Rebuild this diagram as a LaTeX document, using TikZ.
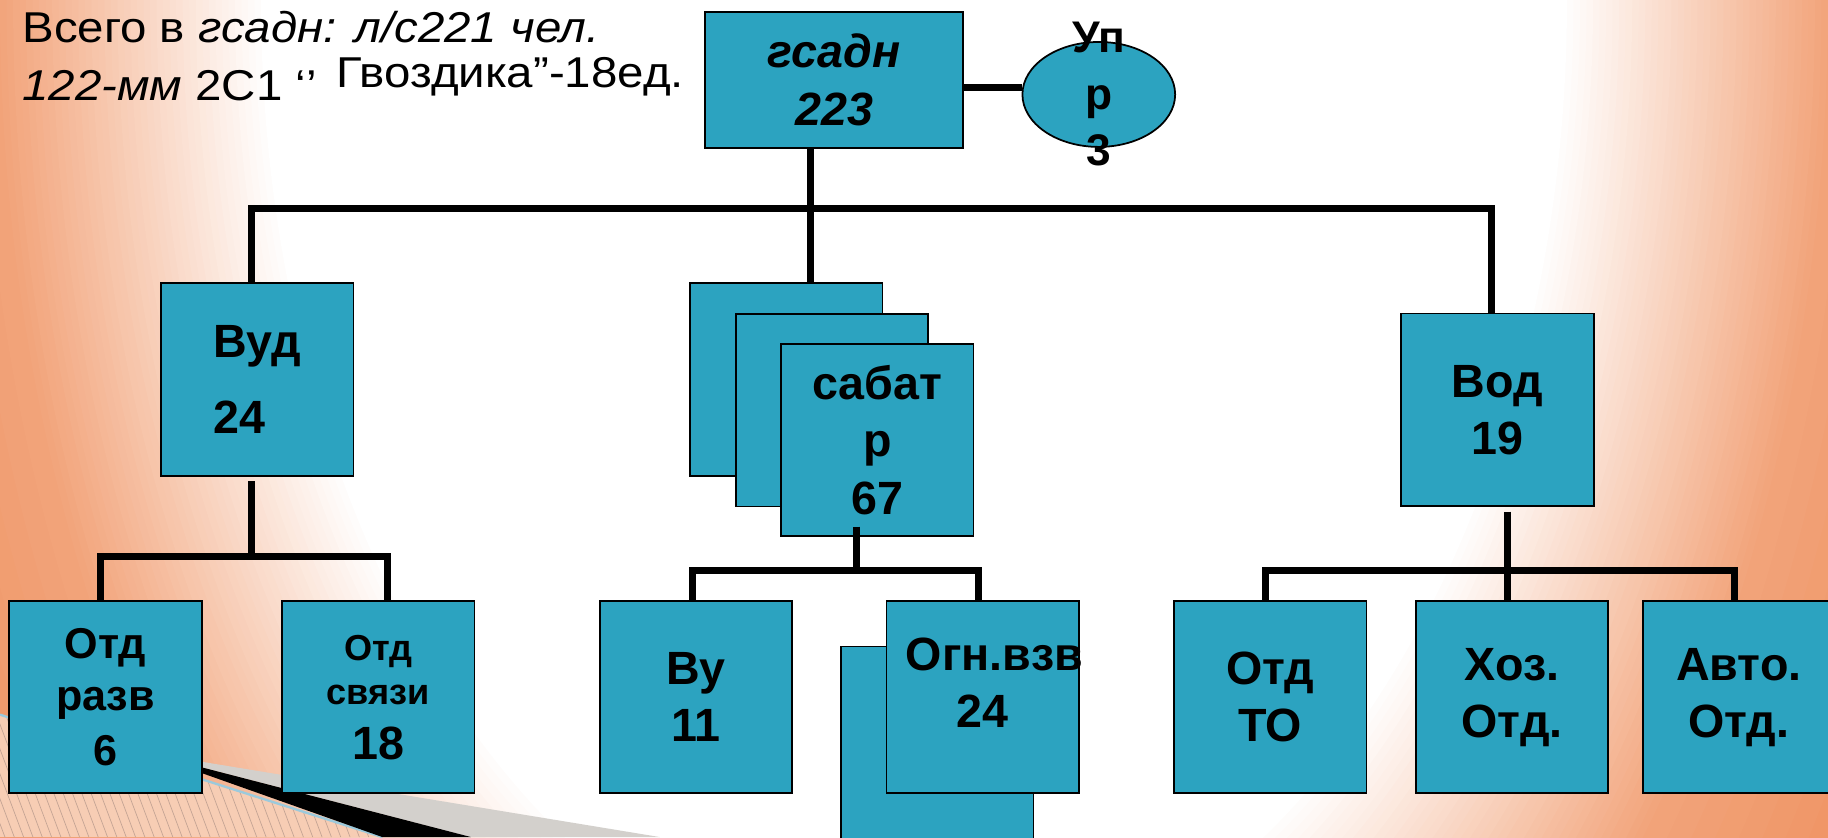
\documentclass[tikz,border=0pt]{standalone}
\usepackage{fontspec}
\setmainfont{Liberation Sans}
\newfontfamily\headfont[FakeStretch=1.1]{Liberation Sans}
\usetikzlibrary{shapes.geometric}
\definecolor{boxfill}{HTML}{2CA3C0}
\definecolor{bgorange}{HTML}{F2A57C}
\definecolor{bgdeep}{HTML}{EC8048}
\definecolor{hatchfill}{HTML}{F7CDB4}
\definecolor{hatchline}{HTML}{C4A494}
\definecolor{edgeblue}{HTML}{9CCADC}
\definecolor{bandgray}{HTML}{D3D0CC}
\begin{document}
\begin{tikzpicture}[x=1pt,y=-1pt,>=latex]
\tikzset{
  unit/.style={draw,fill=boxfill,line width=1.5pt,minimum width=165pt,minimum height=165pt,inner sep=0pt,align=center,font=\bfseries\fontsize{40}{49}\selectfont},
  ellip/.style={draw,fill=boxfill,ellipse,line width=1.5pt,minimum width=131pt,minimum height=90pt,inner sep=0pt},
  bar/.style={line width=6pt,line join=miter},
  headline/.style={inner sep=0pt,align=left,anchor=north west,font=\headfont\fontsize{37}{49.5}\selectfont}
}
\useasboundingbox (0,0) rectangle (1568,718);
\begin{scope}
\clip (0,0) rectangle (1568,718);
\fill[bgdeep] (0,0) rectangle (1568,718);
\foreach \k [evaluate=\k as \s using 2.0-0.03*\k, evaluate=\k as \p using int(\k*5)] in {0,...,20}
  \fill[bgorange!\p!bgdeep] (784,0) ellipse [x radius=560*\s, y radius=850*\s];
\foreach \k [evaluate=\k as \s using 1.4-0.01*\k, evaluate=\k as \p using int(\k*2.5)] in {0,...,40}
  \fill[white!\p!bgorange] (784,0) ellipse [x radius=560*\s, y radius=850*\s];
\fill[hatchfill] (0,613) -- (328,718) -- (0,718) -- cycle;
\clip (0,613) -- (328,718) -- (0,718) -- cycle;
\foreach \x in {-48,-40,...,330} \draw[hatchline,line width=0.6pt] (\x,600) -- ++(45,120);
\end{scope}
\draw[edgeblue,line width=2pt] (0,613) -- (328,718);
\fill[bandgray] (122,645) -- (566,718) -- (404,718) -- cycle;
\fill[black] (122,645) -- (404,718) -- (328,718) -- cycle;

\node[headline] (total) at (19,9.7) {Всего в \textit{гсадн: л/с221 чел.}\\\textit{122-мм} 2С1 ‘’\hspace{17pt}\raisebox{11.4pt}{Гвоздика”-18ед.}};
\node[unit,minimum width=221pt,minimum height=117pt,font=\bfseries\itshape\fontsize{40}{49}\selectfont] (gsadn) at (715.5,68.5) {гсадн\\223};
\node[ellip] (upr) at (942.5,81) {};
\node[inner sep=0pt,align=center,font=\bfseries\fontsize{38}{48.5}\selectfont] (uprtext) at (upr) {Уп\\р\\3};
\node[unit,align=left] (vud) at (220.7,325.5) {Вуд\\[17pt]24};
\node[unit] (sabat1) at (674.5,325.5) {};
\node[unit] (sabat2) at (713.5,352) {};
\node[unit] (sabat3) at (752.5,377.5) {сабат\\р\\67};
\node[unit] (vod) at (1284.5,351.5) {Вод\\19};
\node[unit,font=\bfseries\fontsize{37}{45}\selectfont] (razv) at (90.5,598) {Отд\\разв\\[2pt]6};
\node[unit] (svyaz) at (324.5,598) {{\fontsize{31}{38}\selectfont Отд}\\[-11pt]{\fontsize{31}{38}\selectfont связи}\\[-2pt]18};
\node[unit] (vu) at (597,598) {Ву\\11};
\node[unit] (ognback) at (804,637) {};
\node[unit,text depth=25pt] (ogn) at (843,598) {\kern10pt Огн.взв\kern-10pt\\24};
\node[unit] (otdto) at (1089.6,598) {Отд\\ТО};
\node[unit] (hoz) at (1297,598) {Хоз.\\Отд.};
\node[unit] (avto) at (1491.5,598) {Авто.\\Отд.};

\coordinate (hub) at (695,179);
\coordinate (vudhub) at (216,477);
\coordinate (sabhub) at (735,489.5);
\coordinate (vodhub) at (1293,489);
\coordinate (uprlink) at ([yshift=-6.5pt]gsadn.east);
\draw[bar] (uprlink) -- (uprlink -| upr.west);
\draw[bar] (hub |- gsadn.south) -- (hub |- sabat1.north);
\draw[bar] ([xshift=-5pt]vud.north) |- (hub) -| ([xshift=-5pt]vod.north);
\draw[bar] ([yshift=-4pt]vudhub |- vud.south) -- (vudhub);
\draw[bar] ([xshift=-4pt]razv.north) |- (vudhub) -| ([xshift=8pt]svyaz.north);
\draw[bar] ([yshift=9pt]sabhub |- sabat3.south) -- (sabhub);
\draw[bar] ([xshift=-3pt]vu.north) |- (sabhub) -| ([xshift=-4pt]ogn.north);
\draw[bar] ([yshift=-4pt]vodhub |- vod.south) -- (vodhub |- hoz.north);
\draw[bar] ([xshift=-4pt]otdto.north) |- (vodhub) -| ([xshift=-4pt]avto.north);
\end{tikzpicture}
\end{document}
